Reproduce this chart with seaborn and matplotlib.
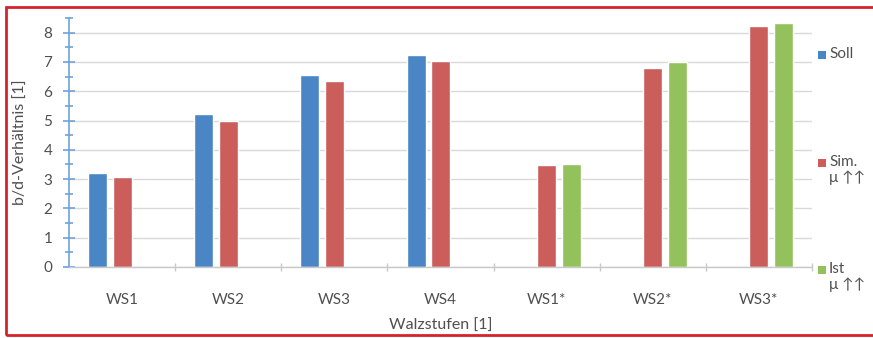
import matplotlib
matplotlib.use("Agg")
import matplotlib.pyplot as plt
from matplotlib.patches import Rectangle
from matplotlib.ticker import MultipleLocator, FixedLocator
import pandas as pd
import seaborn as sns

# Rolling stages and measured width/thickness ratios per series
stages = ["WS1", "WS2", "WS3", "WS4", "WS1*", "WS2*", "WS3*"]
series = ["Soll", "Sim.", "Ist"]
soll = [3.2, 5.22, 6.55, 7.24, None, None, None]
sim = [3.08, 5.0, 6.36, 7.03, 3.48, 6.79, 8.24]
ist = [None, None, None, None, 3.52, 7.01, 8.33]
legend_labels = ["Soll", "Sim.\nμ ↑↑", "Ist\nμ ↑↑"]
colors = ["#4A85C6", "#CB5E5B", "#93C15C"]

rows = []
for name, vals in zip(series, [soll, sim, ist]):
    for st, v in zip(stages, vals):
        if v is not None:
            rows.append({"Stufe": st, "Serie": name, "Wert": v})
df = pd.DataFrame(rows)

sns.set_theme(style="white")
plt.rcParams["font.family"] = ["Lato", "DejaVu Sans"]
text_col = "#505050"

W, H = 873, 338
fig = plt.figure(figsize=(W / 100, H / 100), dpi=100)
ax = fig.add_axes([69 / W, 1 - 267 / H, (812 - 69) / W, (267 - 18) / H])

sns.barplot(data=df, x="Stufe", y="Wert", hue="Serie", order=stages,
            hue_order=series, palette=colors, width=0.69, gap=0.22,
            saturation=1, ax=ax, legend=False)

ax.set_xlim(-0.5, len(stages) - 0.5)
ax.set_ylim(0, 8.5)

# gridlines at integer values
ax.yaxis.set_major_locator(FixedLocator(range(0, 9)))
ax.yaxis.set_minor_locator(MultipleLocator(0.5))
ax.grid(axis="y", which="major", color="#d9d9d9", linewidth=1.0)
ax.set_axisbelow(True)

for s in ["top", "right"]:
    ax.spines[s].set_visible(False)
ax.spines["left"].set_color("#6FA3DA")
ax.spines["left"].set_linewidth(1.2)
ax.spines["bottom"].set_color("#c8c8c8")
ax.spines["bottom"].set_linewidth(1.0)

ax.tick_params(axis="y", which="both", left=True, direction="inout",
               color="#6FA3DA", width=1.2, labelcolor=text_col,
               labelsize=11, pad=8)
ax.tick_params(axis="y", which="major", length=8)
ax.tick_params(axis="y", which="minor", length=6)

# category separators on the x axis
ax.xaxis.set_minor_locator(FixedLocator([i + 0.5 for i in range(len(stages))]))
ax.tick_params(axis="x", which="major", bottom=False, length=0,
               labelcolor=text_col, labelsize=11, pad=19)
ax.tick_params(axis="x", which="minor", bottom=True, length=6,
               direction="inout", color="#c8c8c8", width=1.0)

ax.set_xlabel("Walzstufen [1]", color=text_col, fontsize=11.5, labelpad=8)
ax.set_ylabel("b/d-Verhältnis [1]", color=text_col, fontsize=11.5, labelpad=11)

# legend entries on the right
legend_y = [55, 163, 270]
for lab, col, y in zip(legend_labels, colors, legend_y):
    fig.patches.append(Rectangle((818 / W, 1 - (y + 4) / H), 8 / W, 8 / H,
                                 transform=fig.transFigure, facecolor=col,
                                 edgecolor="none"))
    fig.text(829 / W, 1 - (y - 8) / H, lab, color=text_col, fontsize=11,
             va="top", ha="left", linespacing=1.1)

# red frame
fig.patches.append(Rectangle((6 / W, 1 - 335 / H), (W + 10) / W, (335 - 7) / H,
                             transform=fig.transFigure, facecolor="none",
                             edgecolor="#D6232A", linewidth=2.0, clip_on=False))

fig.savefig("out.png", dpi=100)
